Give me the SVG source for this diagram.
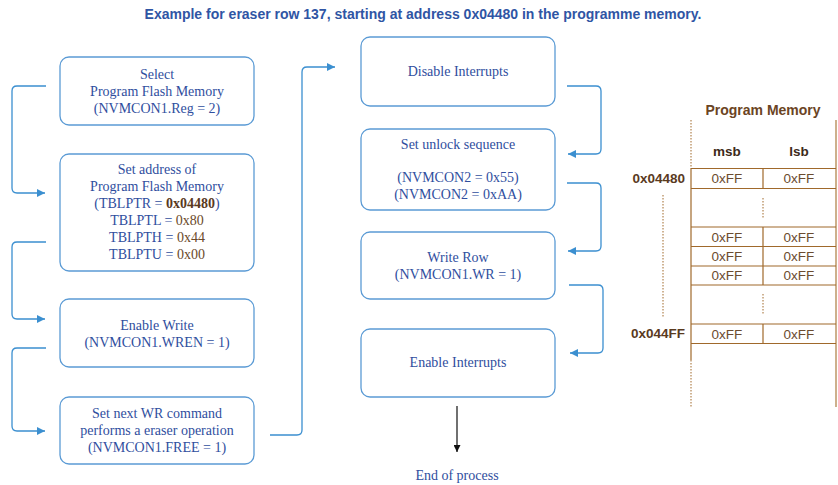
<svg xmlns="http://www.w3.org/2000/svg" width="838" height="485" viewBox="0 0 838 485">
<defs>
<style>
.box{fill:#fff;stroke:#5b9bd5;stroke-width:1.3}
.t{font-family:"Liberation Serif","Times New Roman",serif;font-size:14px;fill:#2f4e9e;text-anchor:middle}
.v{fill:#6b4a2a}
.vb{fill:#5a3a1e;font-weight:bold}
.c{fill:none;stroke:#3b8fd0;stroke-width:1.3}
.m{fill:none;stroke:#a0692b;stroke-width:1.2}
.md{fill:none;stroke:#a0692b;stroke-width:1;stroke-dasharray:1.5 1.5}
.ms{font-family:"Liberation Sans",Arial,sans-serif;text-anchor:middle}
</style>
<marker id="ab" viewBox="0 0 10 10" refX="10" refY="5" markerWidth="9" markerHeight="8" markerUnits="userSpaceOnUse" orient="auto">
<path d="M0,0 L10,5 L0,10 z" fill="#3b8fd0"/>
</marker>
<marker id="ak" viewBox="0 0 10 10" refX="10" refY="5" markerWidth="8" markerHeight="7" markerUnits="userSpaceOnUse" orient="auto">
<path d="M0,0 L10,5 L0,10 z" fill="#111"/>
</marker>
</defs>
<rect width="838" height="485" fill="#fff"/>
<text x="423" y="19" font-family="Liberation Sans,Arial,sans-serif" font-size="14" font-weight="bold" fill="#2f55a4" text-anchor="middle">Example for eraser row 137, starting at address 0x04480 in the programme memory.</text>

<g id="connectors">
<path class="c" d="M46,86 H17 Q12,86 12,91 V188 Q12,193 17,193 H45" marker-end="url(#ab)"/>
<path class="c" d="M46,242 H17 Q12,242 12,247 V314 Q12,319 17,319 H45" marker-end="url(#ab)"/>
<path class="c" d="M46,348 H17 Q12,348 12,353 V426 Q12,431 17,431 H45" marker-end="url(#ab)"/>
<path class="c" d="M270,435 H297 Q302,435 302,430 V72 Q302,67 307,67 H335" marker-end="url(#ab)"/>
<path class="c" d="M567,86 H596 Q601,86 601,91 V149 Q601,154 596,154 H568" marker-end="url(#ab)"/>
<path class="c" d="M567,183 H596 Q601,183 601,188 V246 Q601,251 596,251 H568" marker-end="url(#ab)"/>
<path class="c" d="M569,285 H598 Q603,285 603,290 V348 Q603,353 598,353 H570" marker-end="url(#ab)"/>
<path d="M457,406 V452" stroke="#111" stroke-width="1.2" fill="none" marker-end="url(#ak)"/>
</g>

<g id="n1">
<rect class="box" x="60" y="57" width="194" height="68" rx="9"/>
<text class="t" x="157" y="79">Select</text>
<text class="t" x="157" y="96">Program Flash Memory</text>
<text class="t" x="157" y="113">(NVMCON1.Reg = 2)</text>
</g>
<g id="n2">
<rect class="box" x="60" y="154" width="194" height="117" rx="9"/>
<text class="t" x="157" y="174">Set address of</text>
<text class="t" x="157" y="191">Program Flash Memory</text>
<text class="t" x="157" y="208">(TBLPTR = <tspan class="vb">0x04480</tspan>)</text>
<text class="t" x="157" y="225">TBLPTL = <tspan class="v">0x80</tspan></text>
<text class="t" x="157" y="242">TBLPTH = <tspan class="v">0x44</tspan></text>
<text class="t" x="157" y="259">TBLPTU = <tspan class="v">0x00</tspan></text>
</g>
<g id="n3">
<rect class="box" x="60" y="299" width="194" height="68" rx="9"/>
<text class="t" x="157" y="330">Enable Write</text>
<text class="t" x="157" y="347">(NVMCON1.WREN = 1)</text>
</g>
<g id="n4">
<rect class="box" x="60" y="397" width="194" height="67" rx="9"/>
<text class="t" x="157" y="418">Set next WR command</text>
<text class="t" x="157" y="435">performs a eraser operation</text>
<text class="t" x="157" y="452">(NVMCON1.FREE = 1)</text>
</g>
<g id="n5">
<rect class="box" x="361" y="37" width="194" height="69" rx="9"/>
<text class="t" x="458" y="76">Disable Interrupts</text>
</g>
<g id="n6">
<rect class="box" x="361" y="129" width="194" height="81" rx="9"/>
<text class="t" x="458" y="149">Set unlock sequence</text>
<text class="t" x="458" y="182">(NVMCON2 = 0x55)</text>
<text class="t" x="458" y="199">(NVMCON2 = 0xAA)</text>
</g>
<g id="n7">
<rect class="box" x="361" y="232" width="194" height="67" rx="9"/>
<text class="t" x="458" y="262">Write Row</text>
<text class="t" x="458" y="279">(NVMCON1.WR = 1)</text>
</g>
<g id="n8">
<rect class="box" x="361" y="329" width="194" height="68" rx="9"/>
<text class="t" x="458" y="367">Enable Interrupts</text>
</g>
<g id="end">
<text class="t" x="457" y="480">End of process</text>
</g>

<g id="memory">
<text class="ms" x="763" y="115" font-size="14" font-weight="bold" fill="#6b4423">Program Memory</text>
<text class="ms" x="727" y="156" font-size="13.5" font-weight="bold" fill="#3d2a1a">msb</text>
<text class="ms" x="799" y="156" font-size="13.5" font-weight="bold" fill="#3d2a1a">lsb</text>
<path class="md" d="M691,120 V168"/>
<path class="m" d="M691,168 V360"/>
<path class="md" d="M691,360 V407"/>
<path d="M836,120 V407" stroke="#cdb08c" stroke-width="2" fill="none"/>
<path class="m" d="M691,168.5 H836 M691,188.5 H836 M691,227 H836 M691,246.5 H836 M691,266 H836 M691,285 H836 M691,324 H836 M691,343.5 H836"/>
<path class="m" d="M763,168.5 V188.5 M763,227 V285 M763,324 V343.5"/>
<path class="md" d="M763,198 V218 M763,294 V315 M663,195 V317" stroke="#c8a882"/>
<text class="ms" x="685" y="183" font-size="13.5" font-weight="bold" fill="#5a3a1e" style="text-anchor:end">0x04480</text>
<text class="ms" x="685" y="338" font-size="13.5" font-weight="bold" fill="#5a3a1e" style="text-anchor:end">0x044FF</text>
<g font-size="13.5" fill="#6b4c30">
<text class="ms" x="727" y="183">0xFF</text><text class="ms" x="799" y="183">0xFF</text>
<text class="ms" x="727" y="241.5">0xFF</text><text class="ms" x="799" y="241.5">0xFF</text>
<text class="ms" x="727" y="261">0xFF</text><text class="ms" x="799" y="261">0xFF</text>
<text class="ms" x="727" y="280">0xFF</text><text class="ms" x="799" y="280">0xFF</text>
<text class="ms" x="727" y="338.5">0xFF</text><text class="ms" x="799" y="338.5">0xFF</text>
</g>
</g>
</svg>
